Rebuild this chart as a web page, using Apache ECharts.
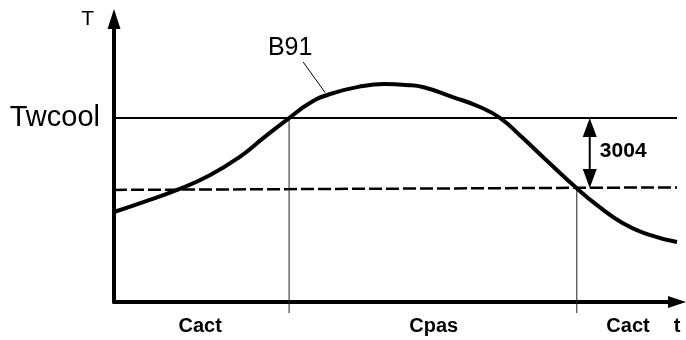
<!DOCTYPE html>
<html>
<head>
<meta charset="utf-8">
<script src="https://cdn.jsdelivr.net/npm/echarts@6/dist/echarts.min.js"></script>
<style>
  html, body { margin: 0; padding: 0; background: #fff; }
  #chart { width: 686px; height: 340px; }
</style>
</head>
<body>
<div id="chart"></div>
<script>
// Temperature curve B91 over time (arbitrary units, 0..100 on both axes)
const curveT = [0, 5.2, 11.2, 17.1, 22.4, 26.5, 31.1, 34.8, 38.4, 44.2, 48.0, 51.8, 55.0, 60.2, 65.0, 68.6, 72.1, 76.9, 82.2, 85.8, 90.4, 94.7, 100];
const curveV = [31.8, 35.3, 39.6, 44.9, 51.4, 57.9, 65.0, 70.3, 73.5, 76.3, 77.0, 76.7, 75.9, 72.4, 68.9, 65.0, 58.9, 49.9, 40.2, 34.2, 27.8, 24.0, 21.2];

// Threshold Twcool and the lower switching level
const twcoolLevel = 65.0;
const lowerT = [0, 100];
const lowerV = [39.6, 40.5];

// Switching instants (curve crossings)
const switchT = [31.1, 82.2];
const switchTop = [65.0, 40.3];
const switchBottom = -3.9;

// Hysteresis parameter 3004
const hystT = 84.5;
const hystLabel = '3004';
const hystLabelPos = [86.3, 53.4];

// Curve name with leader line
const curveName = 'B91';
const leaderT = [33.6, 37.5];
const leaderV = [84.8, 74.0];

// Axis names and labels along the time axis
const valueName = 'T';
const phaseT = [15.3, 56.8, 91.3, 100];
const phaseNames = ['Cact', 'Cpas', 'Cact', 't'];

const chart = echarts.init(document.getElementById('chart'), null, { renderer: 'canvas' });
const FONT = '"Liberation Sans", Arial, sans-serif';

// invisible anchor used only to carry a text label
const textAnchor = (coord, label) => ({
  symbol: 'circle', symbolSize: 0,
  itemStyle: { opacity: 1 },
  data: [{ coord }],
  label: Object.assign({ show: true, color: '#000', fontFamily: FONT }, label)
});

const option = {
  animation: false,
  backgroundColor: '#fff',
  grid: { left: 114, right: 9, top: 19, bottom: 38 },
  xAxis: {
    type: 'value', min: 0, max: 100,
    splitLine: { show: false },
    axisTick: { show: false },
    axisLine: {
      onZero: false,
      lineStyle: { color: '#000', width: 4 },
      symbol: ['none', 'triangle'], symbolSize: [12, 18]
    },
    axisLabel: {
      customValues: phaseT,
      formatter: v => phaseNames[phaseT.indexOf(v)] || '',
      color: '#000', fontFamily: FONT, fontWeight: 'bold', fontSize: 20,
      margin: 14, showMaxLabel: true
    }
  },
  yAxis: {
    type: 'value', min: 0, max: 100,
    splitLine: { show: false },
    axisTick: { show: false },
    axisLabel: { show: false },
    axisLine: {
      onZero: false,
      lineStyle: { color: '#000', width: 4 },
      symbol: ['none', 'triangle'], symbolSize: [13, 20]
    }
  },
  series: [
    {
      // Twcool threshold, with the value-axis name at the top of the axis
      type: 'line', symbol: 'none', silent: true,
      data: [[0, twcoolLevel], [100, twcoolLevel]],
      lineStyle: { color: '#000', width: 2 },
      markPoint: {
        symbol: 'circle', symbolSize: 0,
        data: [
          { coord: [0, twcoolLevel], label: { formatter: 'Twcool', fontSize: 29, distance: 14 } },
          { coord: [0, 100], label: { formatter: valueName, fontSize: 21, distance: 20 } }
        ],
        label: { show: true, position: 'left', color: '#000', fontFamily: FONT }
      }
    },
    {
      // lower switching level
      type: 'line', symbol: 'none', silent: true,
      data: lowerT.map((t, i) => [t, lowerV[i]]),
      lineStyle: { color: '#000', width: 2.5, type: [13, 4] }
    },
    ...switchT.map((t, i) => ({
      type: 'line', symbol: 'none', silent: true, clip: false,
      data: [[t, switchTop[i]], [t, switchBottom]],
      lineStyle: { color: '#222', width: 1 }
    })),
    {
      // B91 curve
      type: 'line', symbol: 'none', smooth: 0.5, silent: true, clip: false,
      data: curveT.map((t, i) => [t, curveV[i]]),
      lineStyle: { color: '#000', width: 4 }
    },
    {
      // leader line and curve name
      type: 'line', symbol: 'none', silent: true,
      data: leaderT.map((t, i) => [t, leaderV[i]]),
      lineStyle: { color: '#000', width: 1 },
      markPoint: textAnchor([leaderT[0], leaderV[0]], {
        position: 'top', distance: 1, offset: [-13, 0], formatter: curveName, fontSize: 25
      })
    },
    {
      // double-headed arrow for the hysteresis, with its value label
      type: 'custom', silent: true, clip: false,
      data: [[hystT, twcoolLevel, switchTop[1]]],
      renderItem: (params, api) => {
        const a = api.coord([api.value(0), api.value(1)]);
        const b = api.coord([api.value(0), api.value(2)]);
        const hw = 7, hh = 19;
        return {
          type: 'group',
          children: [
            { type: 'line', shape: { x1: a[0], y1: a[1] + hh, x2: b[0], y2: b[1] - hh }, style: { stroke: '#000', lineWidth: 2 } },
            { type: 'polygon', shape: { points: [[a[0], a[1]], [a[0] - hw, a[1] + hh], [a[0] + hw, a[1] + hh]] }, style: { fill: '#000' } },
            { type: 'polygon', shape: { points: [[b[0], b[1]], [b[0] - hw, b[1] - hh], [b[0] + hw, b[1] - hh]] }, style: { fill: '#000' } }
          ]
        };
      },
      markPoint: textAnchor(hystLabelPos, {
        position: 'right', distance: 0, formatter: hystLabel, fontWeight: 'bold', fontSize: 21
      })
    }
  ]
};

chart.setOption(option);
</script>
</body>
</html>
